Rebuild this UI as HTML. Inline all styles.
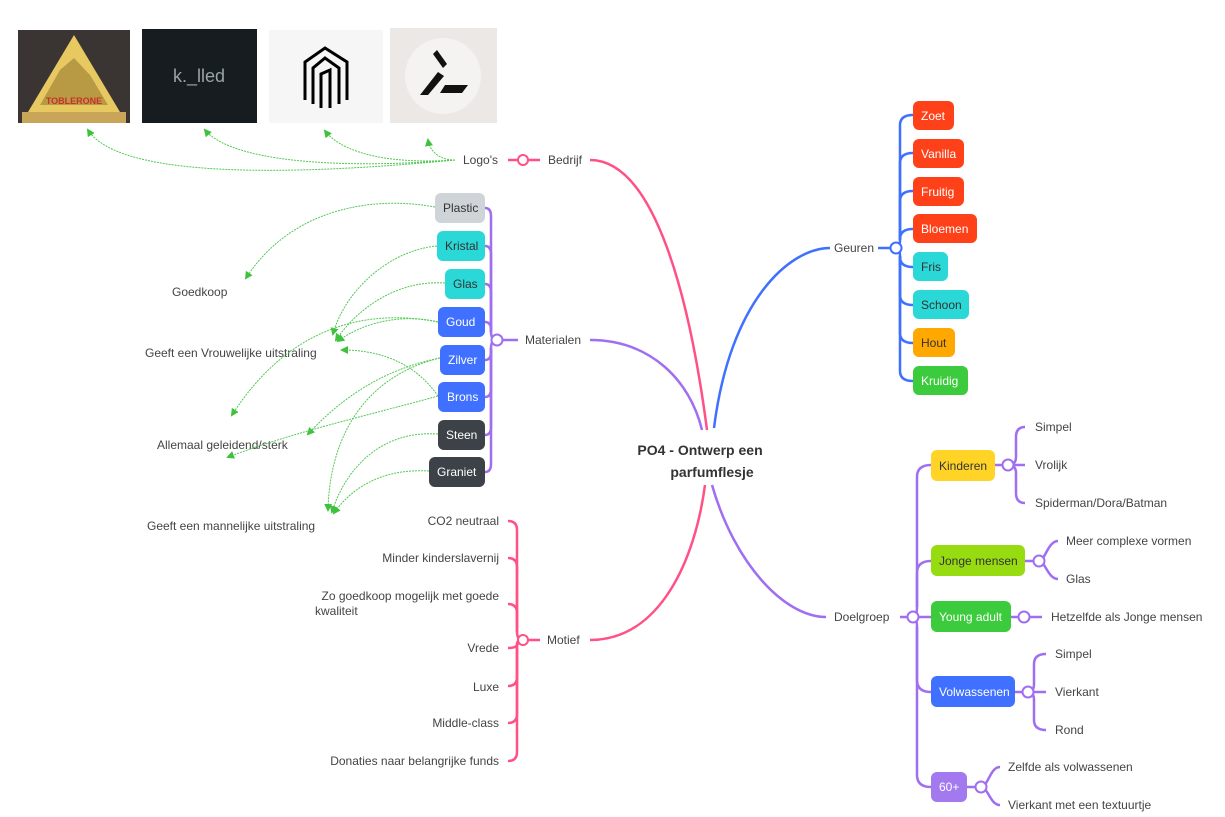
<!DOCTYPE html>
<html><head><meta charset="utf-8"><style>
html,body{margin:0;padding:0;background:#fff;}
svg{display:block;font-family:"Liberation Sans",sans-serif;}
.t{font-size:12px;fill:#444;}
.w{font-size:12px;fill:#fff;}
.d{font-size:12px;fill:#333;}
.g{fill:none;stroke:#52c952;stroke-width:1;stroke-dasharray:2 1;}
</style></head><body>
<svg width="1225" height="817" viewBox="0 0 1225 817" xmlns="http://www.w3.org/2000/svg">
<defs>
<marker id="ah" markerWidth="8" markerHeight="8" refX="6" refY="4" orient="auto" markerUnits="userSpaceOnUse">
<path d="M0,0 L8,4 L0,8 z" fill="#3ec23e"/></marker>
</defs>

<!-- images -->
<rect x="18" y="30" width="112" height="93" fill="#3a3532"/>
<polygon points="74,35 120,112 28,112" fill="#e8c860"/>
<polygon points="60,70 74,58 90,75 108,105 40,105" fill="#b89a45"/>
<text x="74" y="104" font-size="9" font-weight="bold" fill="#c8312c" text-anchor="middle">TOBLERONE</text>
<rect x="22" y="112" width="104" height="11" fill="#c9a55a"/>
<rect x="142" y="29" width="115" height="94" fill="#161c1f"/>
<text x="199" y="82" font-size="18" fill="#9aa3a6" text-anchor="middle">k._lled</text>
<rect x="269" y="30" width="114" height="93" fill="#f6f6f6"/>
<g stroke="#000" stroke-width="3" fill="none">
<path d="M305,100 V62 L325,48 L347,62 V100"/><path d="M313,104 V68 L325,58 L339,68 V104"/><path d="M321,108 V74 L330,70 V108"/>
</g>
<rect x="390" y="28" width="107" height="95" fill="#ebe8e5"/>
<circle cx="443" cy="76" r="38" fill="#f5f3f1"/>
<g fill="#111"><polygon points="437,50 447,64 443,68 433,54"/><polygon points="420,95 438,72 444,76 428,95"/><polygon points="445,85 468,85 462,93 440,93"/></g>

<!-- main branches -->
<g fill="none" stroke-width="2.5">
<path d="M590,160 C655,160 690,300 707,430" stroke="#ff5186"/>
<path d="M590,640 C660,640 695,560 705,485" stroke="#ff5186"/>
<path d="M590,340 C650,340 690,380 702,430" stroke="#a06ef0"/>
<path d="M712,485 C735,565 785,617 826,617" stroke="#a06ef0"/>
<path d="M714,428 C730,300 790,248 830,248" stroke="#3f70ff"/>
</g>
<text x="700" y="455" font-size="14" font-weight="bold" fill="#333" text-anchor="middle">PO4 - Ontwerp een</text>
<text x="712" y="477" font-size="14" font-weight="bold" fill="#333" text-anchor="middle">parfumflesje</text>

<!-- Bedrijf -->
<text x="548" y="164" class="t">Bedrijf</text>
<path d="M508,160 H540" stroke="#ff5186" stroke-width="2.5"/>
<circle cx="523" cy="160" r="5" fill="#fff" stroke="#ff5186" stroke-width="2"/>
<text x="463" y="164" class="t">Logo's</text>
<path class="g" marker-end="url(#ah)" d="M455,160 C300,175 120,180 88,130"/>
<path class="g" marker-end="url(#ah)" d="M455,160 C330,170 230,160 205,130"/>
<path class="g" marker-end="url(#ah)" d="M455,160 C380,165 340,150 325,131"/>
<path class="g" marker-end="url(#ah)" d="M455,160 C440,160 430,152 428,140"/>

<!-- Geuren -->
<text x="834" y="252" class="t">Geuren</text>
<g fill="none" stroke="#3f70ff" stroke-width="2.5">
<path d="M878,248 H896"/>
<path d="M896,248 Q900,248 900,240 V125 Q900,115 913,115"/>
<path d="M900,240 V163 Q900,153 913,153"/>
<path d="M900,240 V201 Q900,191 913,191"/>
<path d="M900,240 V239 Q900,229 913,229"/>
<path d="M896,248 Q900,248 900,256 V257 Q900,267 913,267"/>
<path d="M900,256 V295 Q900,305 913,305"/>
<path d="M900,256 V333 Q900,343 913,343"/>
<path d="M900,256 V371 Q900,381 913,381"/>
</g>
<circle cx="896" cy="248" r="5.5" fill="#fff" stroke="#3f70ff" stroke-width="2"/>
<rect x="913" y="101" width="41" height="29" rx="6" fill="#ff4119"/><text x="921" y="120" class="w">Zoet</text>
<rect x="913" y="139" width="51" height="29" rx="6" fill="#ff4119"/><text x="921" y="158" class="w">Vanilla</text>
<rect x="913" y="177" width="51" height="29" rx="6" fill="#ff4119"/><text x="921" y="196" class="w">Fruitig</text>
<rect x="913" y="214" width="64" height="29" rx="6" fill="#ff4119"/><text x="921" y="233" class="w">Bloemen</text>
<rect x="913" y="252" width="35" height="29" rx="6" fill="#2ad8d8"/><text x="921" y="271" class="d">Fris</text>
<rect x="913" y="290" width="56" height="29" rx="6" fill="#2ad8d8"/><text x="921" y="309" class="d">Schoon</text>
<rect x="913" y="328" width="42" height="29" rx="6" fill="#ffa800"/><text x="921" y="347" class="d">Hout</text>
<rect x="913" y="366" width="55" height="29" rx="6" fill="#3ccb3c"/><text x="921" y="385" class="w">Kruidig</text>

<!-- Materialen -->
<text x="525" y="344" class="t">Materialen</text>
<g fill="none" stroke="#a06ef0" stroke-width="2.5">
<path d="M497,340 H518"/>
<path d="M497,340 Q491,340 491,332 V216 Q491,208 485,208"/>
<path d="M491,332 V254 Q491,246 485,246"/>
<path d="M491,332 V292 Q491,284 485,284"/>
<path d="M491,332 V330 Q491,322 485,322"/>
<path d="M497,340 Q491,340 491,348 V352 Q491,360 485,360"/>
<path d="M491,348 V389 Q491,397 485,397"/>
<path d="M491,348 V427 Q491,435 485,435"/>
<path d="M491,348 V464 Q491,472 485,472"/>
</g>
<circle cx="497" cy="340" r="5.5" fill="#fff" stroke="#a06ef0" stroke-width="2"/>
<rect x="435" y="193" width="50" height="30" rx="6" fill="#cfd4d8"/><text x="443" y="212" class="d">Plastic</text>
<rect x="437" y="231" width="48" height="30" rx="6" fill="#2ad8d8"/><text x="445" y="250" class="d">Kristal</text>
<rect x="445" y="269" width="40" height="30" rx="6" fill="#2ad8d8"/><text x="453" y="288" class="d">Glas</text>
<rect x="438" y="307" width="47" height="30" rx="6" fill="#3f70ff"/><text x="446" y="326" class="w">Goud</text>
<rect x="440" y="345" width="45" height="30" rx="6" fill="#3f70ff"/><text x="448" y="364" class="w">Zilver</text>
<rect x="438" y="382" width="47" height="30" rx="6" fill="#3f70ff"/><text x="447" y="401" class="w">Brons</text>
<rect x="438" y="420" width="47" height="30" rx="6" fill="#3c4247"/><text x="446" y="439" class="w">Steen</text>
<rect x="429" y="457" width="56" height="30" rx="6" fill="#3c4247"/><text x="437" y="476" class="w">Graniet</text>
<text x="172" y="296" class="t">Goedkoop</text>
<text x="145" y="357" class="t">Geeft een Vrouwelijke uitstraling</text>
<text x="157" y="449" class="t">Allemaal geleidend/sterk</text>
<text x="147" y="530" class="t">Geeft een mannelijke uitstraling</text>
<path class="g" marker-end="url(#ah)" d="M435,207 C370,195 290,210 246,278"/>
<path class="g" marker-end="url(#ah)" d="M437,246 C390,250 345,290 333,334"/>
<path class="g" marker-end="url(#ah)" d="M445,283 C400,280 360,305 336,340"/>
<path class="g" marker-end="url(#ah)" d="M438,322 C410,315 370,318 338,341"/>
<path class="g" marker-end="url(#ah)" d="M438,322 C350,305 280,340 232,415"/>
<path class="g" marker-end="url(#ah)" d="M440,358 C380,370 340,400 308,434"/>
<path class="g" marker-end="url(#ah)" d="M440,358 C370,375 330,430 328,510"/>
<path class="g" marker-end="url(#ah)" d="M438,396 C420,370 390,350 342,350"/>
<path class="g" marker-end="url(#ah)" d="M438,396 C370,415 300,430 228,457"/>
<path class="g" marker-end="url(#ah)" d="M438,434 C380,430 345,470 332,512"/>
<path class="g" marker-end="url(#ah)" d="M429,471 C380,468 350,490 334,513"/>

<!-- Motief -->
<text x="547" y="644" class="t">Motief</text>
<g fill="none" stroke="#ff5186" stroke-width="2.5">
<path d="M523,640 H540"/>
<path d="M523,640 Q517,640 517,632 V530 Q517,521 508,521"/>
<path d="M517,632 V567 Q517,558 508,558"/>
<path d="M517,632 V613 Q517,604 508,604"/>
<path d="M523,640 Q517,640 517,644 Q517,648 508,648"/>
<path d="M523,640 Q517,640 517,648 V677 Q517,686 508,686"/>
<path d="M517,648 V714 Q517,723 508,723"/>
<path d="M517,648 V752 Q517,761 508,761"/>
</g>
<circle cx="523" cy="640" r="5" fill="#fff" stroke="#ff5186" stroke-width="2"/>
<g class="t" text-anchor="end">
<text x="499" y="525">CO2 neutraal</text>
<text x="499" y="562">Minder kinderslavernij</text>
<text x="499" y="600">Zo goedkoop mogelijk met goede</text>
<text x="499" y="652">Vrede</text>
<text x="499" y="691">Luxe</text>
<text x="499" y="727">Middle-class</text>
<text x="499" y="765">Donaties naar belangrijke funds</text>
</g>
<text x="315" y="615" class="t">kwaliteit</text>

<!-- Doelgroep -->
<text x="834" y="621" class="t">Doelgroep</text>
<g fill="none" stroke="#a06ef0" stroke-width="2.5">
<path d="M900,617 H931"/>
<path d="M913,617 Q917,617 917,607 V477 Q917,465 931,465"/>
<path d="M917,607 V573 Q917,561 931,561"/>
<path d="M913,617 Q917,617 917,627 V680 Q917,692 931,692"/>
<path d="M917,627 V775 Q917,787 931,787"/>
<path d="M995,465 H1025"/><path d="M1008,465 Q1016,465 1016,457 V437 Q1016,427 1025,427"/><path d="M1008,465 Q1016,465 1016,473 V493 Q1016,503 1025,503"/>
<path d="M1025,561 H1045"/><path d="M1039,561 C1045,561 1048,541 1058,541"/><path d="M1039,561 C1045,561 1048,579 1058,579"/>
<path d="M1011,617 H1042"/>
<path d="M1015,692 H1046"/><path d="M1028,692 Q1034,692 1034,684 V664 Q1034,654 1046,654"/><path d="M1028,692 Q1034,692 1034,700 V720 Q1034,730 1046,730"/>
<path d="M967,787 H985"/><path d="M981,787 C988,787 990,767 1000,767"/><path d="M981,787 C988,787 990,805 1000,805"/>
</g>
<g fill="#fff" stroke="#a06ef0" stroke-width="2">
<circle cx="913" cy="617" r="5.5"/><circle cx="1008" cy="465" r="5.5"/><circle cx="1039" cy="561" r="5.5"/>
<circle cx="1024" cy="617" r="5.5"/><circle cx="1028" cy="692" r="5.5"/><circle cx="981" cy="787" r="5.5"/>
</g>
<rect x="931" y="450" width="64" height="31" rx="6" fill="#ffd426"/><text x="939" y="470" class="d">Kinderen</text>
<rect x="931" y="545" width="94" height="31" rx="6" fill="#97dc10"/><text x="939" y="565" class="d">Jonge mensen</text>
<rect x="931" y="601" width="80" height="31" rx="6" fill="#3ccb3c"/><text x="939" y="621" class="w">Young adult</text>
<rect x="931" y="676" width="84" height="31" rx="6" fill="#3f70ff"/><text x="939" y="696" class="w">Volwassenen</text>
<rect x="931" y="772" width="36" height="30" rx="6" fill="#a279ee"/><text x="939" y="791" class="w">60+</text>
<g class="t">
<text x="1035" y="431">Simpel</text><text x="1035" y="469">Vrolijk</text><text x="1035" y="507">Spiderman/Dora/Batman</text>
<text x="1066" y="545">Meer complexe vormen</text><text x="1066" y="583">Glas</text>
<text x="1051" y="621">Hetzelfde als Jonge mensen</text>
<text x="1055" y="658">Simpel</text><text x="1055" y="696">Vierkant</text><text x="1055" y="734">Rond</text>
<text x="1008" y="771">Zelfde als volwassenen</text><text x="1008" y="809">Vierkant met een textuurtje</text>
</g>
</svg>
</body></html>
